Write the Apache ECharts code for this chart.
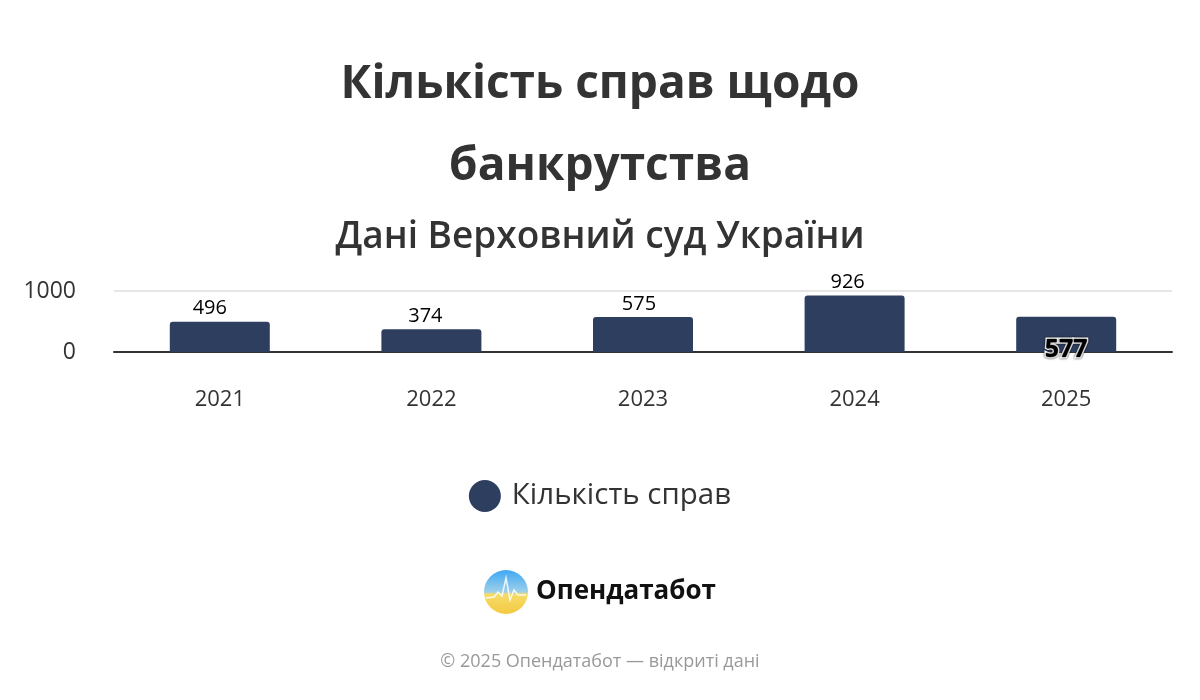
<!DOCTYPE html>
<html>
<head>
<meta charset="utf-8">
<script src="https://cdn.jsdelivr.net/npm/echarts@6/dist/echarts.min.js"></script>
<style>html,body{margin:0;padding:0;background:#fff}#c{width:1200px;height:700px}</style>
</head>
<body>
<div id="c"></div>
<script>
const categories = ['2021', '2022', '2023', '2024', '2025'];
const values = [496, 374, 575, 926, 577];
const yTicks = [0, 1000];
const seriesName = 'Кількість справ';
const titleText = 'Кількість справ щодо\nбанкрутства';
const subtitleText = 'Дані Верховний суд України';

const FONT = '"Open Sans", "Noto Sans", sans-serif';
const chart = echarts.init(document.getElementById('c'));
const barColor = '#2e3e5f';
const labelShift = [-10, -6, -4, -7, 0];

const data = values.map((v, i) => {
  if (i === values.length - 1) {
    return {
      value: v,
      label: {
        position: 'insideBottom',
        distance: -10,
        fontSize: 25,
        fontWeight: 'bold',
        color: '#000',
        textBorderColor: '#fff',
        textBorderWidth: 3,
        textShadowColor: 'rgba(0,0,0,0.9)',
        textShadowBlur: 2
      }
    };
  }
  return { value: v, label: { offset: [labelShift[i], 0] } };
});

chart.setOption({
  backgroundColor: '#fff',
  animation: false,
  title: [
    {
      text: titleText, left: 'center', top: 39,
      textStyle: { fontFamily: FONT, fontSize: 46, fontWeight: 'bold', color: '#333', lineHeight: 82 }
    },
    {
      text: subtitleText, left: 'center', top: 214,
      textStyle: { fontFamily: FONT, fontSize: 37, fontWeight: 600, color: '#333' }
    }
  ],
  legend: {
    top: 475, left: 'center', icon: 'circle', itemWidth: 32, itemHeight: 32,
    textStyle: { fontFamily: FONT, fontSize: 29.5, color: '#333', padding: [0, 0, 0, 6] },
    data: [seriesName]
  },
  grid: { left: 114, right: 28, top: 291, bottom: 348, containLabel: false },
  xAxis: {
    type: 'category', data: categories,
    axisLine: { lineStyle: { color: '#333', width: 2 } },
    axisTick: { show: false },
    axisLabel: { fontFamily: FONT, fontSize: 22, color: '#333', margin: 37 }
  },
  yAxis: {
    type: 'value', min: yTicks[0], max: yTicks[yTicks.length - 1], interval: 1000,
    axisLabel: { fontFamily: FONT, fontSize: 23, color: '#333', margin: 38, formatter: v => String(v) },
    splitLine: { lineStyle: { color: '#e6e6e6', width: 2 } },
    axisLine: { show: false }, axisTick: { show: false }
  },
  series: [{
    name: seriesName, type: 'bar', data: data, barWidth: 100,
    itemStyle: { color: barColor, borderRadius: [3, 3, 0, 0] },
    label: { show: true, position: 'top', distance: 3, fontFamily: FONT, fontSize: 20, color: '#000' }
  }],
  graphic: [
    {
      type: 'circle', shape: { cx: 506, cy: 592, r: 22 },
      style: {
        fill: new echarts.graphic.LinearGradient(0, 0, 0, 1, [
          { offset: 0, color: '#3ea8f5' },
          { offset: 0.5, color: '#9fd0e8' },
          { offset: 0.55, color: '#f6dc6a' },
          { offset: 1, color: '#f3c941' }
        ])
      }
    },
    {
      type: 'polyline',
      shape: { points: [[486, 598], [494, 597], [498, 592], [502, 596], [506, 578], [510, 600], [514, 590], [518, 595], [526, 595]] },
      style: { stroke: '#fff', lineWidth: 1.5, fill: null, opacity: 0.85 }
    },
    {
      type: 'text', left: 536, top: 579,
      style: { text: 'Опендатабот', fontFamily: FONT, fontSize: 26, fontWeight: 'bold', fill: '#111' }
    },
    {
      type: 'text', left: 'center', top: 653,
      style: { text: '© 2025 Опендатабот — відкриті дані', fontFamily: FONT, fontSize: 18, fill: '#999' }
    }
  ]
});
</script>
</body>
</html>
